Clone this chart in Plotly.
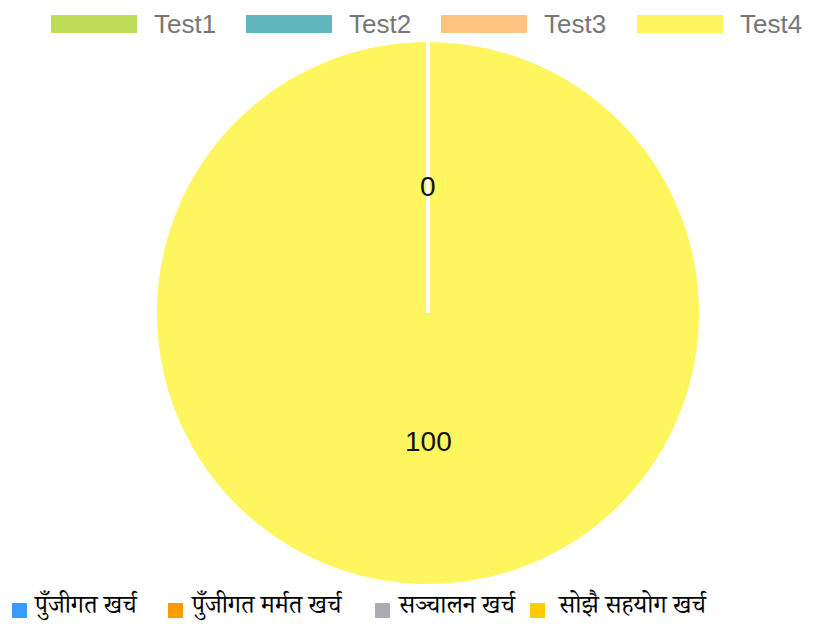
import plotly.graph_objects as go

# Data
labels = ["Test1", "Test2", "Test3", "Test4"]
values = [0, 0, 0, 100]
colors = ["#C0DD5A", "#62B6BE", "#FFC382", "#FFF55E"]

bottom_labels = ["पुँजीगत खर्च", "पुँजीगत मर्मत खर्च", "सञ्चालन खर्च", "सोझै सहयोग खर्च"]
bottom_colors = ["#3A9BFF", "#FF9A00", "#A9ACB3", "#FFCC00"]

OFF = 8  # browser body margin
W, H = 813 - OFF, 628 - OFF
cx, cy, R = 428, 313, 272


def px(x):
    return (x - OFF) / W


def py(y):
    return (H - (y - OFF)) / H


fig = go.Figure()
fig.add_trace(go.Pie(
    labels=labels,
    values=values,
    marker=dict(colors=colors, line=dict(color="white", width=2)),
    sort=False,
    direction="clockwise",
    rotation=0,
    textinfo="none",
    hoverinfo="label+value",
    showlegend=False,
    domain=dict(x=[px(cx - R), px(cx + R)], y=[py(cy + R), py(cy - R)]),
))

shapes = []
annotations = []

# white separator line (zero-value slices at 12 o'clock)
shapes.append(dict(type="line", xref="paper", yref="paper",
                   x0=px(cx), x1=px(cx), y0=py(cy), y1=py(cy - R - 1),
                   line=dict(color="white", width=4)))

label_font = dict(family="Liberation Sans, Arial", size=28, color="#111")
zero_vals = [v for v in values if v == 0]
if zero_vals:
    annotations.append(dict(x=px(cx), y=py(186), xref="paper", yref="paper",
                            xanchor="center", yanchor="middle",
                            text=str(zero_vals[0]), showarrow=False, font=label_font))
annotations.append(dict(x=px(cx), y=py(441), xref="paper", yref="paper",
                        xanchor="center", yanchor="middle",
                        text=str(values[3]), showarrow=False, font=label_font))

# top legend
box_x = [51, 246, 441, 637]
for i, (lab, col) in enumerate(zip(labels, colors)):
    x0 = box_x[i]
    shapes.append(dict(type="rect", xref="paper", yref="paper",
                       x0=px(x0), x1=px(x0 + 86), y0=py(33), y1=py(15),
                       fillcolor=col, line=dict(width=0)))
    annotations.append(dict(x=px(x0 + 101), y=py(24), xref="paper", yref="paper",
                            xanchor="left", yanchor="middle", text=lab, showarrow=False,
                            font=dict(family="Liberation Sans, Arial", size=26, color="#777")))

# bottom legend
sq_x = [12, 168, 375, 530]
txt_x = [32, 189, 396, 556]
for i, (lab, col) in enumerate(zip(bottom_labels, bottom_colors)):
    shapes.append(dict(type="rect", xref="paper", yref="paper",
                       x0=px(sq_x[i]), x1=px(sq_x[i] + 15), y0=py(618), y1=py(603),
                       fillcolor=col, line=dict(width=0)))
    annotations.append(dict(x=px(txt_x[i]), y=py(609), xref="paper", yref="paper",
                            xanchor="left", yanchor="middle", text=lab, showarrow=False,
                            font=dict(family="Noto Serif Devanagari, Noto Sans Devanagari, Lohit Devanagari, serif",
                                      size=25, color="#000")))

fig.update_layout(
    width=W, height=H,
    margin=dict(l=0, r=0, t=0, b=0),
    paper_bgcolor="white",
    plot_bgcolor="white",
    shapes=shapes,
    annotations=annotations,
)

fig.write_html("out.html")
